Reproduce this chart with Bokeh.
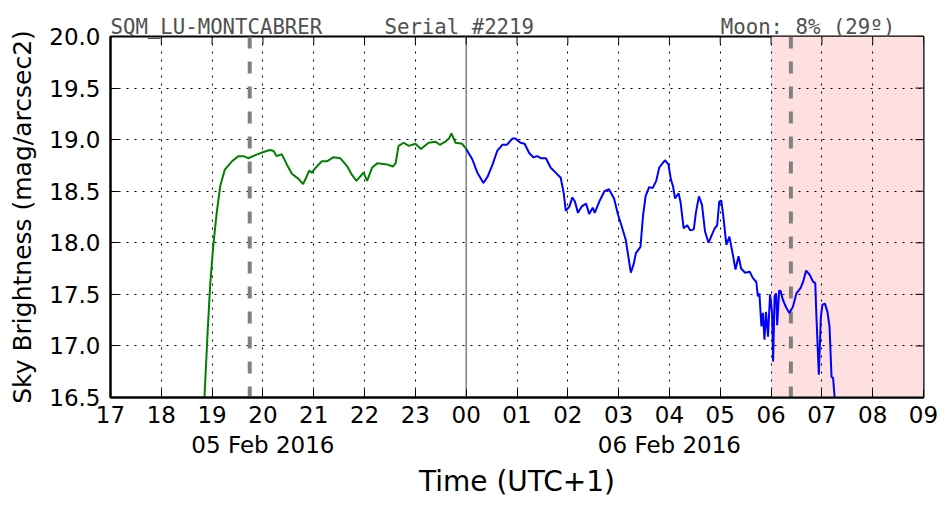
import math
from bokeh.plotting import figure
from bokeh.models import LinearAxis, FixedTicker, Span, Title
from bokeh.embed import file_html
from bokeh.resources import INLINE

# ---------------- data ----------------
# time in hours since 00:00 of 05 Feb 2016 (local, UTC+1)
green_t = [18.80, 18.85, 18.91, 18.96, 19.02, 19.09, 19.16, 19.25, 19.39, 19.52, 19.62,
           19.71, 19.85, 20.01, 20.14, 20.21, 20.27, 20.37, 20.47, 20.57, 20.70, 20.79,
           20.85, 20.91, 20.96, 21.06, 21.16, 21.26, 21.39, 21.52, 21.66, 21.75, 21.84,
           21.98, 22.05, 22.15, 22.25, 22.44, 22.56, 22.61, 22.67, 22.77, 22.87, 23.00,
           23.11, 23.26, 23.40, 23.48, 23.59, 23.66, 23.71, 23.79, 23.92, 24.00]
green_v = [16.20, 16.51, 17.12, 17.58, 17.96, 18.29, 18.55, 18.71, 18.79, 18.84, 18.84,
           18.82, 18.85, 18.88, 18.90, 18.89, 18.84, 18.86, 18.76, 18.67, 18.62, 18.57,
           18.63, 18.70, 18.68, 18.74, 18.79, 18.79, 18.83, 18.82, 18.74, 18.66, 18.60,
           18.68, 18.60, 18.73, 18.77, 18.76, 18.74, 18.77, 18.94, 18.97, 18.94, 18.96,
           18.91, 18.97, 18.98, 18.95, 18.98, 19.01, 19.06, 18.97, 18.96, 18.91]

blue_t = [24.00, 24.12, 24.22, 24.34, 24.42, 24.52, 24.61, 24.71, 24.80, 24.91, 24.97,
          25.07, 25.15, 25.24, 25.32, 25.40, 25.47, 25.57, 25.66, 25.76, 25.86, 25.92,
          25.96, 26.03, 26.09, 26.14, 26.20, 26.27, 26.36, 26.42, 26.49, 26.53, 26.62,
          26.72, 26.81, 26.91, 26.99, 27.06, 27.14, 27.19, 27.24, 27.30, 27.34, 27.43,
          27.48, 27.53, 27.60, 27.67, 27.74, 27.80, 27.91, 27.98, 28.03, 28.07, 28.11,
          28.18, 28.22, 28.28, 28.35, 28.41, 28.48, 28.52, 28.58, 28.64, 28.70, 28.77,
          28.82, 28.89, 28.94, 28.98, 29.02, 29.06, 29.12, 29.18, 29.25, 29.30, 29.36,
          29.41, 29.49, 29.58, 29.64, 29.71, 29.74, 29.77, 29.81, 29.84, 29.87, 29.90,
          29.94, 29.98, 30.02, 30.04, 30.07, 30.10, 30.12, 30.16, 30.19, 30.23, 30.30,
          30.36, 30.43, 30.50, 30.58, 30.63, 30.69, 30.76, 30.83, 30.87, 30.89, 30.94,
          30.98, 31.01, 31.06, 31.11, 31.15, 31.19, 31.22, 31.25, 31.30]
blue_v = [18.91, 18.81, 18.68, 18.58, 18.64, 18.76, 18.89, 18.95, 18.95, 19.01, 19.01,
          18.97, 18.96, 18.87, 18.83, 18.84, 18.82, 18.82, 18.73, 18.68, 18.63, 18.48,
          18.31, 18.35, 18.44, 18.40, 18.29, 18.35, 18.38, 18.28, 18.34, 18.29, 18.40,
          18.50, 18.52, 18.43, 18.27, 18.16, 18.03, 17.87, 17.71, 17.80, 17.90, 17.96,
          18.26, 18.45, 18.54, 18.53, 18.60, 18.73, 18.80, 18.76, 18.61, 18.55, 18.43,
          18.48, 18.39, 18.14, 18.17, 18.12, 18.13, 18.29, 18.45, 18.37, 18.11, 18.00,
          18.06, 18.14, 18.17, 18.40, 18.41, 18.26, 17.98, 18.06, 17.88, 17.74, 17.87,
          17.75, 17.71, 17.72, 17.66, 17.62, 17.48, 17.51, 17.19, 17.32, 17.06, 17.33,
          17.09, 17.50, 17.32, 16.85, 17.48, 17.51, 17.20, 17.54, 17.53, 17.45, 17.37,
          17.32, 17.38, 17.51, 17.56, 17.62, 17.73, 17.69, 17.62, 17.61, 17.32, 16.72,
          17.28, 17.40, 17.41, 17.33, 17.19, 16.70, 16.69, 16.51, 16.30]

hour_ticks = list(range(17, 34))
hour_labels = ["%02d" % (h % 24) for h in hour_ticks]
y_ticks = [16.5, 17.0, 17.5, 18.0, 18.5, 19.0, 19.5, 20.0]
y_labels = ["%.1f" % v for v in y_ticks]
date_ticks = [20, 28]
date_labels = ["05 Feb 2016", "06 Feb 2016"]

X_MIN, X_MAX = 17, 33
Y_MIN, Y_MAX = 16.5, 20.0
midnight = 24.0
moon_lines = [19.74, 30.39]
twilight_start = 30.0

station = "SQM_LU-MONTCABRER"
serial = "Serial #2219"
moon = "Moon: 8% (29º)"
NB = "\u00a0"
header = station + NB * 5 + serial + NB * 15 + moon

SANS = "DejaVu Sans"
MONO = "DejaVu Sans Mono"

# ---------------- figure ----------------
p = figure(width=952, height=512, x_range=(X_MIN, X_MAX), y_range=(Y_MIN, Y_MAX),
           output_backend="svg", toolbar_location=None,
           min_border_left=110, min_border_right=29, min_border_top=36,
           min_border_bottom=115)
p.background_fill_color = "white"
p.border_fill_color = "white"
p.outline_line_color = "black"
p.outline_line_width = 2

p.title = Title(text=header, align="left", offset=0, standoff=-4,
                vertical_align="bottom", text_font=MONO, text_font_size="20.7px",
                text_font_style="normal", text_color="#505050")

xt = FixedTicker(ticks=hour_ticks)
yt = FixedTicker(ticks=y_ticks)

xa = p.below[0]
xa.ticker = xt
xa.major_label_overrides = {h: l for h, l in zip(hour_ticks, hour_labels)}
ya = p.left[0]
ya.ticker = yt
ya.major_label_overrides = {v: l for v, l in zip(y_ticks, y_labels)}

for ax in (xa, ya):
    ax.axis_line_width = 2
    ax.major_tick_in = 8
    ax.major_tick_out = 0
    ax.minor_tick_line_color = None
    ax.major_label_text_font = SANS
    ax.major_label_text_font_size = "23px"
    ax.major_label_text_color = "black"
    ax.axis_label_text_font = SANS
    ax.axis_label_text_font_style = "normal"
    ax.axis_label_text_color = "black"

xa.major_label_standoff = 8
ya.major_label_standoff = 10
ya.axis_label = "Sky Brightness (mag/arcsec2)"
ya.axis_label_text_font_size = "25px"
ya.axis_label_standoff = 9

# second-level date axis
da = LinearAxis(ticker=FixedTicker(ticks=date_ticks),
                major_label_overrides={t: l for t, l in zip(date_ticks, date_labels)},
                axis_line_color=None, major_tick_line_color=None,
                minor_tick_line_color=None,
                major_label_text_font=SANS, major_label_text_font_size="23px",
                major_label_text_color="black",
                major_label_standoff=0,
                axis_label="Time (UTC+1)", axis_label_text_font=SANS,
                axis_label_text_font_size="28px", axis_label_text_font_style="normal",
                axis_label_text_color="black",
                axis_label_standoff=4)
p.add_layout(da, "below")

for g in (p.xgrid[0], p.ygrid[0]):
    g.grid_line_color = "black"
    g.grid_line_dash = "2 6"
    g.grid_line_width = 1
    g.grid_line_alpha = 1
p.xgrid[0].ticker = xt
p.ygrid[0].ticker = yt

# shaded region after 06:00
q = p.quad(left=[twilight_start], right=[X_MAX], bottom=[Y_MIN], top=[Y_MAX],
           fill_color="#ffe0e0", line_color=None)
q.level = "image"

# midnight line
p.add_layout(Span(location=midnight, dimension="height", line_color="gray",
                  line_width=1.5, level="underlay"))
# moon lines
for m in moon_lines:
    p.add_layout(Span(location=m, dimension="height", line_color="gray",
                      line_width=4, line_dash="12 13", level="underlay"))

p.line(green_t, green_v, line_color="green", line_width=2)
p.line(blue_t, blue_v, line_color="blue", line_width=2)

# inward ticks on top and right edges (half of each dash is clipped by the frame)
p.scatter(x=hour_ticks, y=[Y_MAX] * len(hour_ticks), marker="dash", size=16,
          angle=math.pi / 2, line_color="black", line_width=1)
p.scatter(x=[X_MAX] * len(y_ticks), y=y_ticks, marker="dash", size=16,
          angle=0, line_color="black", line_width=1)

open("out.html", "w").write(file_html(p, INLINE))
